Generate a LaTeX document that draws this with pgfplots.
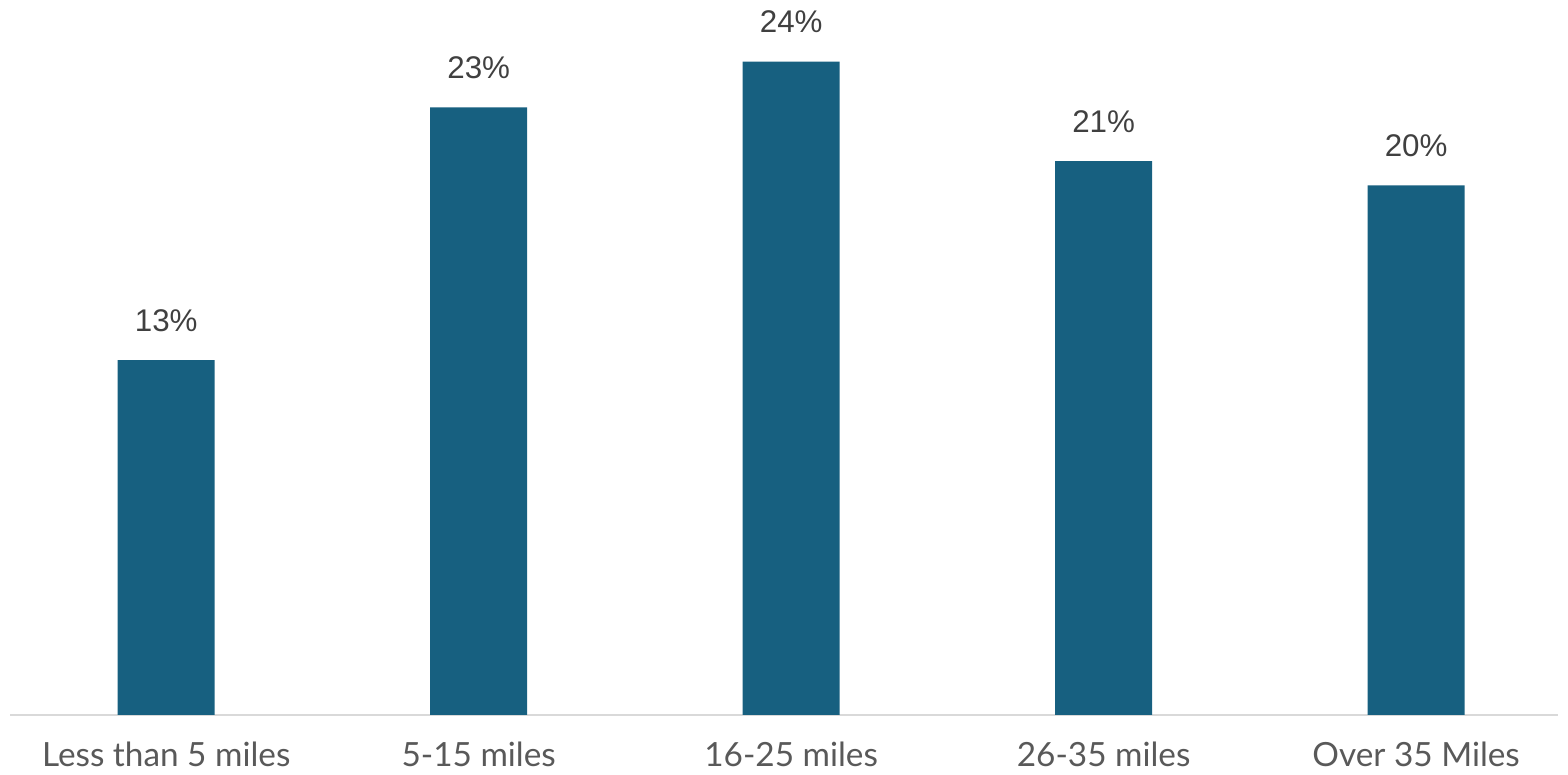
\documentclass[border=0pt]{standalone}
\usepackage{fontspec}
\setmainfont{Liberation Sans}
\newfontfamily\catfont{Lato}
\usepackage{pgfplots}
\pgfplotsset{compat=1.18}
\definecolor{barblue}{RGB}{23,96,128}
\definecolor{lbl}{RGB}{64,64,64}
\definecolor{cat}{RGB}{89,89,89}
\definecolor{axl}{RGB}{217,217,217}
\begin{document}
\begin{tikzpicture}
\begin{axis}[
  scale only axis, width=464.4pt, height=209.7pt,
  at={(3pt,18pt)}, anchor=south west,
  enlargelimits=false,
  ymin=0, ymax=26, xmin=-0.5, xmax=4.454,
  axis y line=none, axis x line=bottom,
  x axis line style={draw=axl, line width=0.5pt, -},
  xtick={0,1,2,3,4},
  xticklabels={Less than 5 miles, 5-15 miles, 16-25 miles, 26-35 miles, Over 35 Miles},
  major tick length=0pt,
  xticklabel style={font=\catfont\fontsize{10}{12}\selectfont, text=cat, anchor=base, yshift=-15.6pt},
  ybar, bar width=29.1pt,
  nodes near coords={\pgfmathprintnumber[fixed,precision=0,assume math mode=true]{\pgfplotspointmeta}\%},
  point meta=explicit,
  every node near coord/.append style={font=\fontsize{9.4}{11}\selectfont, text=lbl, inner sep=0pt, anchor=south, yshift=8.4pt},
]
\addplot[fill=barblue, draw=none] table[x=x, y=y, meta=m] {
x y m
0 13.2 13
1 22.6 23
2 24.3 24
3 20.6 21
4 19.7 20
};
\end{axis}
\pgfresetboundingbox
\useasboundingbox (0,0) rectangle (470.4pt,232.5pt);
\end{tikzpicture}
\end{document}
